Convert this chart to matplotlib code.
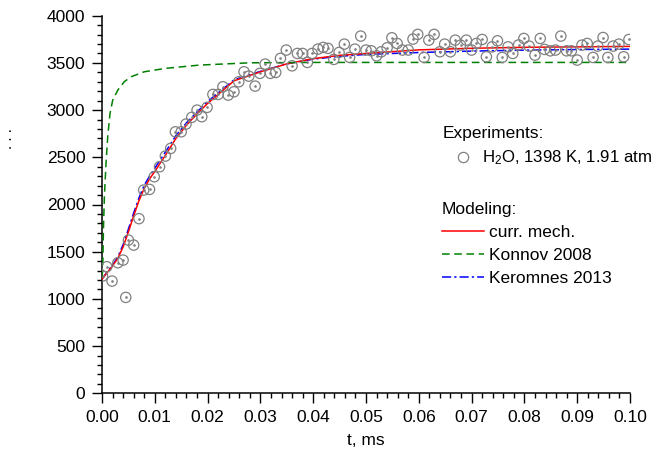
import numpy as np
import matplotlib
matplotlib.use('Agg')
import matplotlib.pyplot as plt
from matplotlib.lines import Line2D
from matplotlib.ticker import MultipleLocator, FormatStrFormatter

plt.rcParams['font.family'] = ['Liberation Sans', 'DejaVu Sans']
plt.rcParams['mathtext.default'] = 'regular'

t_exp = [0.0001, 0.0009, 0.0019, 0.0030, 0.0040, 0.0045, 0.0050, 0.0060, 0.0070, 0.0079,
         0.0090, 0.0099, 0.0109, 0.0120, 0.0130, 0.0139, 0.0150, 0.0159, 0.0170, 0.0180,
         0.0189, 0.0199, 0.0210, 0.0220, 0.0229, 0.0239, 0.0250, 0.0259, 0.0269, 0.0278,
         0.0290, 0.0299, 0.0309, 0.0319, 0.0329, 0.0338, 0.0349, 0.0360, 0.0370, 0.0380,
         0.0389, 0.0398, 0.0409, 0.0419, 0.0428, 0.0439, 0.0449, 0.0459, 0.0469, 0.0479,
         0.0490, 0.0500, 0.0510, 0.0520, 0.0529, 0.0540, 0.0549, 0.0559, 0.0569, 0.0580,
         0.0589, 0.0598, 0.0610, 0.0619, 0.0629, 0.0640, 0.0649, 0.0660, 0.0669, 0.0679,
         0.0690, 0.0700, 0.0709, 0.0720, 0.0728, 0.0739, 0.0749, 0.0758, 0.0769, 0.0778,
         0.0789, 0.0799, 0.0809, 0.0820, 0.0830, 0.0838, 0.0849, 0.0859, 0.0869, 0.0880,
         0.0889, 0.0900, 0.0909, 0.0919, 0.0930, 0.0939, 0.0949, 0.0958, 0.0968, 0.0979,
         0.0988, 0.0998]
h2o_exp = [1242, 1341, 1189, 1383, 1411, 1016, 1623, 1570, 1850, 2153,
           2160, 2294, 2400, 2513, 2594, 2770, 2770, 2852, 2923, 3000,
           2930, 3029, 3166, 3166, 3247, 3159, 3194, 3300, 3406, 3360,
           3254, 3389, 3487, 3389, 3399, 3548, 3636, 3469, 3600, 3600,
           3505, 3600, 3646, 3664, 3654, 3537, 3611, 3699, 3558, 3646,
           3784, 3636, 3628, 3575, 3618, 3660, 3766, 3706, 3636, 3636,
           3752, 3802, 3558, 3741, 3802, 3618, 3699, 3618, 3741, 3688,
           3741, 3636, 3706, 3748, 3565, 3670, 3734, 3558, 3670, 3600,
           3690, 3759, 3678, 3582, 3759, 3643, 3628, 3636, 3784, 3628,
           3628, 3530, 3688, 3706, 3558, 3678, 3769, 3558, 3678, 3699,
           3565, 3748]

# modeling
t_mod = [0.0, 0.001, 0.002, 0.003, 0.004, 0.005, 0.006, 0.007, 0.008, 0.009,
         0.010, 0.012, 0.014, 0.016, 0.018, 0.020, 0.025, 0.030, 0.035, 0.040,
         0.045, 0.050, 0.060, 0.070, 0.080, 0.090, 0.100]
curr_mech = [1210, 1280, 1350, 1430, 1550, 1710, 1880, 2040, 2170, 2270,
             2350, 2520, 2700, 2840, 2960, 3070, 3310, 3405, 3490, 3545,
             3580, 3600, 3638, 3655, 3665, 3670, 3675]
keromnes = [1210, 1285, 1360, 1445, 1575, 1740, 1910, 2070, 2205, 2300,
            2385, 2555, 2730, 2865, 2980, 3090, 3320, 3410, 3490, 3540,
            3570, 3590, 3610, 3625, 3635, 3642, 3646]
t_konnov = [0.0, 0.00013, 0.00027, 0.00045, 0.00076, 0.00108, 0.00152, 0.00203, 0.0030,
            0.0042, 0.0055, 0.0080, 0.0120, 0.0185, 0.0280, 0.0400, 0.1000]
konnov = [1230, 1306, 1729, 2082, 2436, 2718, 2965, 3106, 3212,
          3300, 3353, 3406, 3442, 3477, 3501, 3505, 3505]

fig = plt.figure(figsize=(6.59, 4.53), dpi=100)
ax = fig.add_axes([102/659, 1 - 393.3/453, 528/659, 377.6/453])

ax.plot(t_mod, curr_mech, color='#ff0000', lw=1.1, zorder=3)
ax.plot(t_konnov, konnov, color='#008000', lw=1.1, ls=(0, (5, 3)), zorder=3)
ax.plot(t_mod, keromnes, color='#0000ff', lw=1.1, ls=(0, (6, 2, 1.5, 2)), zorder=2)
ax.scatter(t_exp, h2o_exp, s=55, facecolors='none', edgecolors='#808080', linewidths=0.9, zorder=4)
ax.scatter(t_exp, h2o_exp, s=0.8, color='#808080', zorder=4)

ax.set_xlim(0, 0.1)
ax.set_ylim(0, 4000)
ax.xaxis.set_major_locator(MultipleLocator(0.01))
ax.xaxis.set_minor_locator(MultipleLocator(0.002))
ax.yaxis.set_major_locator(MultipleLocator(500))
ax.yaxis.set_minor_locator(MultipleLocator(100))
ax.xaxis.set_major_formatter(FormatStrFormatter('%.2f'))
for s in ['top', 'right']:
    ax.spines[s].set_visible(False)
for s in ['left', 'bottom']:
    ax.spines[s].set_linewidth(1.1)
ax.tick_params(which='major', length=7, width=1, labelsize=12.5, pad=5)
ax.tick_params(which='minor', length=3.5, width=1)
ax.set_xlabel('t, ms', fontsize=12.5, labelpad=6)

fig.text(8/659, 1 - 139/453, '. . .', rotation=90, fontsize=11, ha='center', va='center')

h_exp = [Line2D([], [], ls='none', marker='o', ms=7.4, mfc='none', mec='#808080', mew=0.9)]
leg1 = ax.legend(h_exp, ['H$_2$O, 1398 K, 1.91 atm'], title='Experiments:', loc='upper left',
                 bbox_to_anchor=(443/659, 1 - 126/453), bbox_transform=fig.transFigure,
                 frameon=False, fontsize=12.1, title_fontsize=12.5, alignment='left',
                 handlelength=2.35, handletextpad=0.0, labelspacing=0.45,
                 borderpad=0, borderaxespad=0)
ax.add_artist(leg1)
h_mod = [Line2D([], [], color='#ff0000', lw=1.1),
         Line2D([], [], color='#008000', lw=1.1, ls=(0, (5, 3))),
         Line2D([], [], color='#0000ff', lw=1.1, ls=(0, (6, 2, 1.5, 2)))]
ax.legend(h_mod, ['curr. mech.', 'Konnov 2008', 'Keromnes 2013'], title='Modeling:', loc='upper left',
          bbox_to_anchor=(442/659, 1 - 202/453), bbox_transform=fig.transFigure,
          frameon=False, fontsize=12.5, title_fontsize=12.5, alignment='left',
          handlelength=2.4, handletextpad=0.33, labelspacing=0.45,
          borderpad=0, borderaxespad=0)

fig.savefig('out.png', dpi=100)
